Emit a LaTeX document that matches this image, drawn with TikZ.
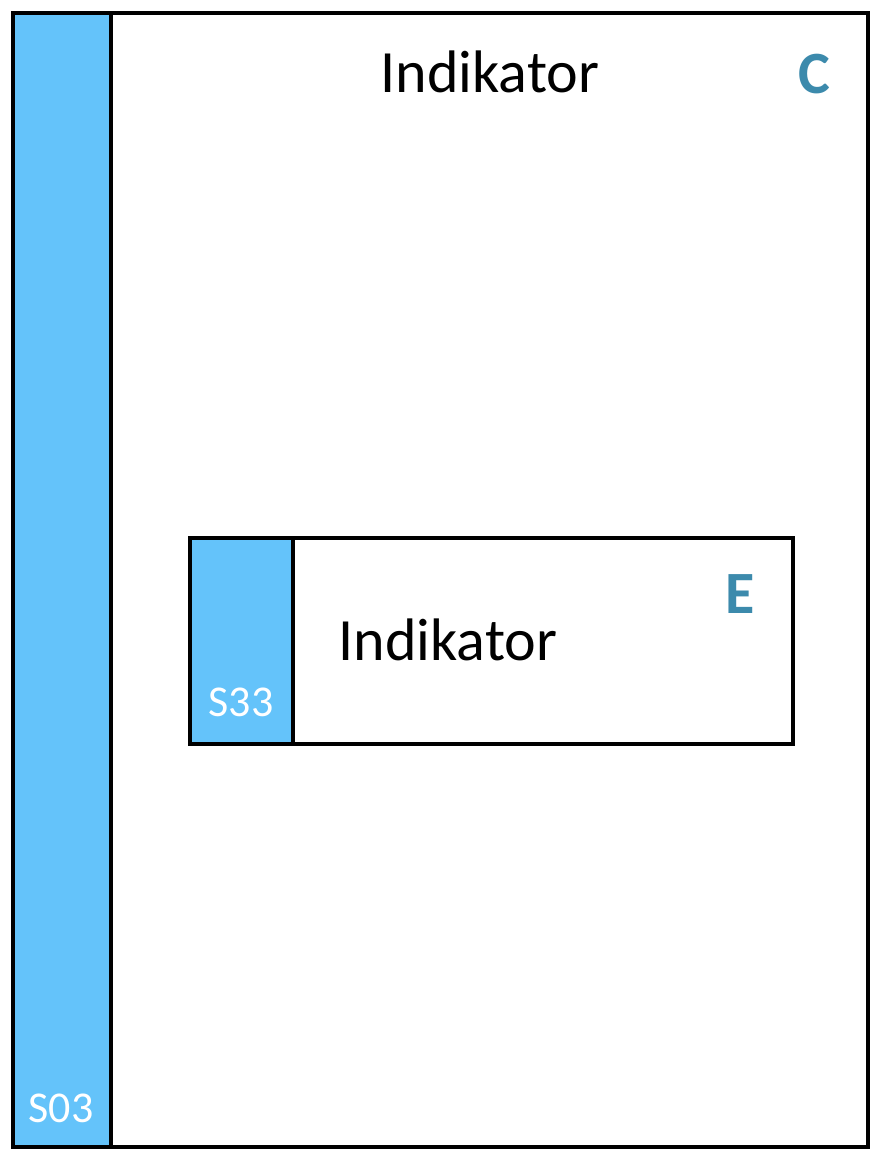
\documentclass[tikz,border=0pt]{standalone}
\usepackage{fontspec}
\setmainfont{Carlito}
\usepackage{tikz}
\usetikzlibrary{positioning}
\usepackage{color}
\definecolor{barblue}{RGB}{100,195,250}
\definecolor{tagteal}{RGB}{60,138,172}

\begin{document}
\begin{tikzpicture}[x=1pt,y=-1pt,line width=3.2pt,
	framebox/.style={draw,inner sep=0pt,outer sep=0pt,anchor=north west},
	bluebar/.style={framebox,fill=barblue},
	titletext/.style={anchor=base,font=\fontsize{60}{60}\selectfont},
	tagtext/.style={anchor=base,text=tagteal,font=\fontsize{60}{60}\selectfont\bfseries},
	codetext/.style={anchor=base,text=white,font=\fontsize{44}{44}\selectfont}]
%			outer frame C
			\useasboundingbox (0,0) rectangle (874,1158);
			\node[framebox, minimum width=855pt, minimum height=1134pt] (cframe) at (13,13) {};
			\node[bluebar, minimum width=98pt, minimum height=1134pt] (cbar) at (13,13) {};
			\node[titletext] (ctitle) at (490,93) {Indikator};
			\node[tagtext] (ctag) at (814,94) {C};
			\node[codetext] (ccode) at (61,1122) {S03};
%			inner box E
			\node[framebox, fill=white, minimum width=603pt, minimum height=206pt] (eframe) at (190,538) {};
			\node[bluebar, minimum width=103pt, minimum height=206pt] (ebar) at (190,538) {};
			\node[titletext] (etitle) at (448,660) {Indikator};
			\node[tagtext] (etag) at (740,613) {E};
			\node[codetext] (ecode) at (241,716) {S33};
		\end{tikzpicture}
\end{document}
